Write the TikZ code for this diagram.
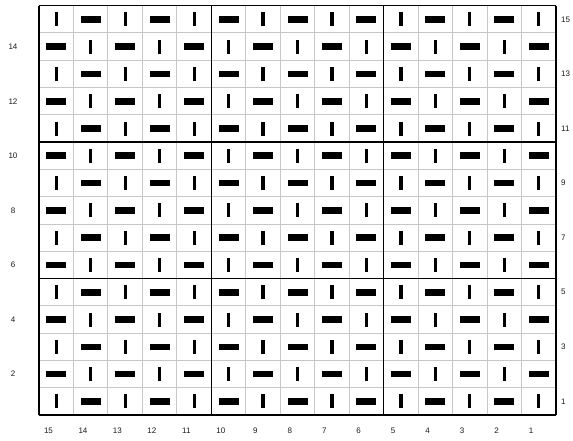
\documentclass[tikz,border=0pt]{standalone}
\usepackage{fontspec}
\setmainfont{Liberation Sans}
\begin{document}
\begin{tikzpicture}[x=1pt,y=-1pt,
  thinline/.style={draw=black!22,line width=1pt},
  thickline/.style={draw=black,line width=1.6pt},
  vbar/.style={fill=black},
  lbl/.style={font=\fontsize{8}{9}\selectfont,text=black!90,inner sep=0pt}]
\useasboundingbox (0,0) rectangle (573,441);
\def\xa{39}\def\ya{5.7}\def\cw{34.467}\def\rh{27.29}
\pgfmathsetmacro{\xb}{\xa+15*\cw}
\pgfmathsetmacro{\yb}{\ya+15*\rh}
% thin grid
\foreach \i in {1,...,14}{
  \draw[thinline] ({\xa+\i*\cw},\ya) -- ({\xa+\i*\cw},\yb);
  \draw[thinline] (\xa,{\ya+\i*\rh}) -- (\xb,{\ya+\i*\rh});
}
% thick grid
\foreach \i in {0,5,10,15}{
  \draw[thickline] ({\xa+\i*\cw},\ya) -- ({\xa+\i*\cw},\yb);
  \draw[thickline] (\xa,{\ya+\i*\rh}) -- (\xb,{\ya+\i*\rh});
}
% symbols
\foreach \k in {0,...,14}{
  \foreach \j in {0,...,14}{
    \pgfmathtruncatemacro{\pty}{mod(\k+\j,2)}
    \pgfmathsetmacro{\cx}{\xa+(\k+0.5)*\cw}
    \pgfmathsetmacro{\cy}{\ya+(\j+0.5)*\rh}
    \ifnum\pty=0
      \fill[vbar] ({\cx-1.6},{\cy-7}) rectangle ({\cx+1.6},{\cy+7});
    \else
      \fill[vbar] ({\cx-10},{\cy-3.3}) rectangle ({\cx+10},{\cy+3.3});
    \fi
  }
}
% row labels
\foreach \r in {2,4,...,14}{
  \node[lbl] (L\r) at (13,{\ya+(15-\r+0.5)*\rh}) {\r};
}
\foreach \r in {1,3,...,15}{
  \node[lbl,anchor=west] (R\r) at (561,{\ya+(15-\r+0.5)*\rh}) {\r};
}
% column labels
\foreach \c in {1,...,15}{
  \node[lbl] (C\c) at ({\xa+(15-\c)*\cw+9.5},431) {\c};
}
\end{tikzpicture}
\end{document}
